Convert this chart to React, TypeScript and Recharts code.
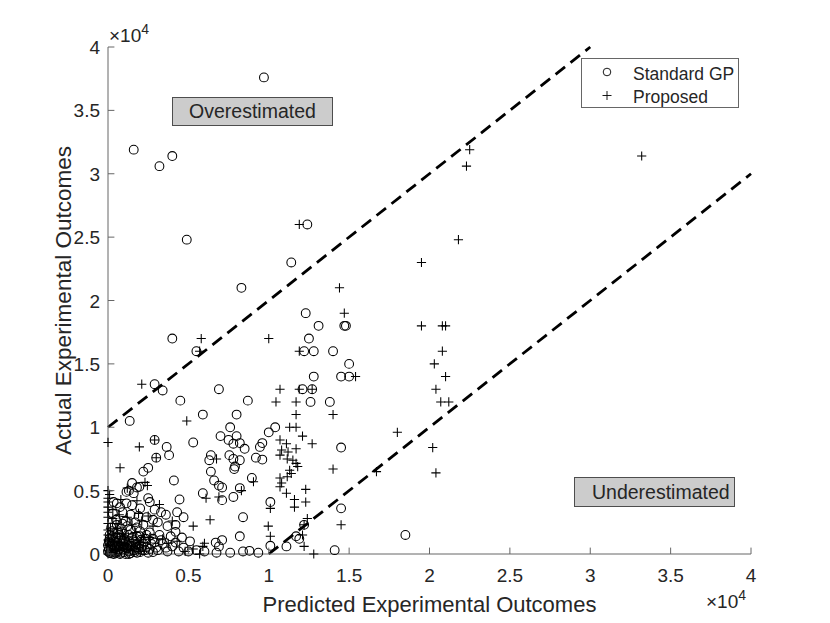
import React from "react";
import { Legend, ReferenceLine, Scatter, ScatterChart, XAxis, YAxis } from "recharts";

const FONT = "'Liberation Sans', Arial, Helvetica, sans-serif";
const INK = "#262626";
const FRAME = "#666666";

const axisTicks = [0, 5000, 10000, 15000, 20000, 25000, 30000, 35000, 40000];
const tickLabels = ["0", "0.5", "1", "1.5", "2", "2.5", "3", "3.5", "4"];
const seriesNames = ["Standard GP", "Proposed"];

// y = x + 10000 and y = x - 10000 guide lines
const overLine = [{ x: 0, y: 10000 }, { x: 30000, y: 40000 }];
const underLine = [{ x: 10000, y: 0 }, { x: 40000, y: 30000 }];

const standardGP: [number, number][] = [
  [9700, 37600], [1600, 31900], [3200, 30600], [4000, 31400], [4900, 24800],
  [12400, 26000], [11400, 23000], [8300, 21000], [12300, 19000], [13100, 18000],
  [14700, 18000], [14800, 18000], [12500, 17000], [4000, 17000], [5500, 16000],
  [12200, 16000], [12800, 16000], [14000, 16000], [15000, 15000], [12800, 14000],
  [14500, 14000], [15000, 14000], [12100, 13000], [12700, 13000], [2900, 13400],
  [3400, 12900], [6900, 13000], [4500, 12100], [8700, 12100], [12600, 12000],
  [13800, 12000], [5900, 11000], [8000, 11000], [1350, 10500], [7600, 10000],
  [10400, 10000], [10000, 9600], [7000, 9300], [8000, 9300], [7500, 9000],
  [7800, 8700], [8200, 8750], [8500, 8300], [9600, 8750], [9450, 8450],
  [2900, 9000], [3650, 8450], [3800, 7800], [3000, 7600], [5300, 8800],
  [14500, 8400], [6400, 7800], [6300, 7400], [7550, 7800], [7800, 7500],
  [8200, 7400], [7900, 6900], [7850, 6700], [9200, 7600], [9600, 7450],
  [2500, 6800], [2200, 6500], [6400, 6500], [6600, 5800], [4100, 5800],
  [6900, 5400], [7100, 5250], [8950, 6000], [8200, 5200], [7800, 4500],
  [5900, 4800], [7100, 4250], [10100, 4100], [14500, 3600], [8400, 2900],
  [4700, 2900], [4200, 2300], [4200, 1750], [12200, 2300], [8200, 1400],
  [11700, 1400], [11900, 1200], [18500, 1500], [6700, 900], [7100, 1100],
  [6900, 600], [11100, 600], [10100, 650], [6000, 200], [6750, 100],
  [7600, 100], [8400, 200], [8800, 250], [9350, 100], [14100, 300],
  [3100, 300], [3700, 200], [4400, 200], [5000, 200], [5500, 300],
  [1500, 5600], [1950, 5300], [1300, 5000], [1150, 4900], [1600, 4800],
  [1800, 5250], [2500, 4400], [2600, 4100], [4450, 4300], [350, 4100],
  [550, 4000], [1150, 4000], [1500, 3850], [750, 3700], [2000, 3600],
  [2900, 3500], [3300, 3300], [3600, 3100], [4300, 3300], [300, 3200],
  [900, 3300], [1400, 3100], [1900, 3000], [2400, 2900], [2800, 2700],
  [3100, 2500], [500, 2700], [1100, 2600], [1700, 2500], [2200, 2300],
  [3700, 2200], [200, 2100], [800, 2000], [1400, 1900], [2000, 1800],
  [2600, 1700], [3200, 1500], [3900, 1400], [4600, 1300], [5100, 1000],
  [100, 1500], [500, 1300], [1000, 1200], [1600, 1100], [2300, 1000],
  [2900, 900], [3400, 800], [4000, 600], [4700, 500], [100, 900],
  [400, 700], [800, 600], [1200, 700], [1700, 500], [2100, 600],
  [2600, 400], [3000, 500], [50, 400], [300, 300], [600, 200],
  [900, 350], [1300, 200], [1600, 300], [2000, 150], [2300, 300],
  [150, 50], [500, 50], [800, 100], [1100, 0], [1400, 50],
  [1800, 100], [200, 550], [600, 900], [1000, 800], [1300, 1000],
  [350, 1100], [700, 1500], [0, 200], [0, 700], [100, 1200],
  [200, 300], [400, 450], [700, 350], [1000, 150], [1200, 450],
  [1500, 600], [1900, 400], [2200, 800], [2400, 550], [250, 800],
  [550, 550], [850, 850], [1150, 500], [1450, 800], [1750, 800],
  [2050, 1100], [100, 100], [450, 150], [750, 0], [1000, 550],
  [1300, 0], [1650, 150], [1950, 650], [2150, 300], [2500, 100],
  [350, 0], [650, 650], [900, 1050], [1500, 1300], [1800, 1400],
  [150, 650], [450, 950], [750, 1250], [1100, 950], [1400, 650],
  [1700, 950], [2000, 1400], [2350, 1200], [2700, 800], [2800, 150],
  [50, 1000], [300, 1400], [600, 1700], [1000, 1600], [1300, 1500],
  [2400, 1500], [2800, 1200], [3300, 1100], [3600, 500], [4200, 900],
  [250, 1800], [550, 2300], [900, 2400], [1200, 2200], [1800, 2100],
];

const proposed: [number, number][] = [
  [22500, 31900], [22300, 30600], [33200, 31400], [21800, 24800], [19500, 23000],
  [11900, 26000], [14400, 21000], [14700, 19000], [19500, 18000], [20800, 18000],
  [21000, 18000], [5800, 17000], [10000, 17000], [5700, 16000], [11900, 16000],
  [20800, 16000], [20300, 15000], [15400, 14000], [21000, 14000], [2100, 13400],
  [10700, 13000], [11900, 13000], [12700, 13000], [20400, 13000], [10450, 12000],
  [11700, 12000], [20700, 12000], [21200, 12000], [4900, 10500], [11700, 11000],
  [14000, 11000], [11300, 10000], [11700, 10000], [18000, 9600], [0, 8800],
  [1950, 8450], [2900, 9000], [10700, 9000], [11100, 8700], [12100, 9300],
  [12700, 8700], [20200, 8400], [10800, 8200], [11200, 8050], [11700, 8300],
  [3000, 7600], [750, 6800], [6750, 7500], [10700, 7800], [11150, 7500],
  [11500, 7400], [11700, 7150], [11800, 6900], [14000, 6700], [16700, 6500],
  [20400, 6400], [11300, 6600], [11400, 6350], [10700, 6000], [11150, 6100],
  [9050, 5700], [8300, 5000], [10800, 5600], [10700, 5300], [11100, 4800],
  [12300, 5100], [11600, 4300], [12300, 4100], [11600, 3700], [12400, 2800],
  [12200, 2300], [12100, 1500], [12200, 600], [12800, 0], [14500, 2300],
  [10100, 3600], [9970, 2200], [10100, 1400], [6100, 4400], [6900, 4500],
  [6350, 2700], [6000, 850], [5900, 600], [5300, 2200], [5700, 0],
  [0, 5000], [0, 4400], [0, 4100], [0, 3700], [0, 3300],
  [0, 2900], [0, 2400], [0, 1900], [0, 1500], [0, 1100],
  [0, 700], [0, 300], [0, 0], [2300, 5650], [2450, 5400],
  [300, 1600], [600, 1600], [900, 1600], [500, 2400], [1200, 2900],
  [1900, 3200], [2800, 2200], [3400, 1200], [3750, 850], [4300, 1000],
  [1000, 700], [1500, 300], [2000, 900], [2600, 1300], [300, 3500],
  [800, 4300], [3200, 3900], [4000, 2600], [4800, 200], [5300, 400],
  [200, 100], [500, 300], [800, 800], [1200, 400], [1600, 600],
  [2000, 200], [400, 1000], [1100, 1400], [1700, 1700], [2200, 1300],
  [150, 2000], [600, 2000], [300, 2800], [700, 3100], [1500, 2300],
  [2100, 2600], [2500, 3000], [1800, 4200], [1200, 5200], [100, 4700],
];

const gpData = standardGP.map(([x, y]) => ({ x, y }));
const proposedData = proposed.map(([x, y]) => ({ x, y }));

function Ring(p: any) {
  return <circle cx={p.cx} cy={p.cy} r={4.4} fill="none" stroke="#000" strokeWidth={1.05} />;
}

function Cross(p: any) {
  const { cx, cy } = p;
  return (
    <path
      d={`M${cx - 4.6},${cy}H${cx + 4.6}M${cx},${cy - 4.6}V${cy + 4.6}`}
      stroke="#000"
      strokeWidth={1.05}
      fill="none"
    />
  );
}

function labelFor(v: number) {
  return tickLabels[axisTicks.indexOf(v)];
}

// MATLAB style: tick marks point inward, labels only on bottom and left
function BoxTick(props: any) {
  const { x, y, payload, side } = props;
  const len = 6.4;
  const tick = { stroke: FRAME, strokeWidth: 1 };
  if (side === "bottom") {
    return (
      <g>
        <line x1={x} y1={y} x2={x} y2={y - len} {...tick} />
        <text x={x} y={y + 28} textAnchor="middle" fontFamily={FONT} fontSize={19} fill={INK}>
          {labelFor(payload.value)}
        </text>
      </g>
    );
  }
  if (side === "left") {
    return (
      <g>
        <line x1={x} y1={y} x2={x + len} y2={y} {...tick} />
        <text x={x - 8} y={y + 7} textAnchor="end" fontFamily={FONT} fontSize={19} fill={INK}>
          {labelFor(payload.value)}
        </text>
      </g>
    );
  }
  if (side === "top") return <line x1={x} y1={y} x2={x} y2={y + len} {...tick} />;
  return <line x1={x} y1={y} x2={x - len} y2={y} {...tick} />;
}

function XTitle() {
  return (
    <g fontFamily={FONT} fill={INK}>
      <text x={429.5} y={612} textAnchor="middle" fontSize={22}>
        Predicted Experimental Outcomes
      </text>
      <text x={706} y={608} fontSize={19}>
        ×10
        <tspan dy={-8} fontSize={14}>4</tspan>
      </text>
    </g>
  );
}

function YTitle() {
  return (
    <g fontFamily={FONT} fill={INK}>
      <text transform="translate(71,300.5) rotate(-90)" textAnchor="middle" fontSize={22.5}>
        Actual Experimental Outcomes
      </text>
      <text x={109} y={42} fontSize={19}>
        ×10
        <tspan dy={-8} fontSize={14}>4</tspan>
      </text>
    </g>
  );
}

function LegendBox(props: any) {
  const entries = [...(props.payload || [])].sort(
    (a: any, b: any) => seriesNames.indexOf(a.value) - seriesNames.indexOf(b.value)
  );
  return (
    <div
      style={{
        boxSizing: "border-box",
        width: 158,
        height: 50,
        border: `1px solid ${FRAME}`,
        background: "#fff",
        position: "relative",
      }}
    >
      <svg width={158} height={50} style={{ position: "absolute", left: -1, top: -1 }}>
        {entries.map((e: any, i: number) => {
          const cy = 14 + i * 23.5;
          return (
            <g key={e.value}>
              {e.value === seriesNames[0] ? (
                <circle cx={26} cy={cy} r={3.8} fill="none" stroke="#000" strokeWidth={0.9} />
              ) : (
                <path d={`M21.5,${cy}H30.5M26,${cy - 4.5}V${cy + 4.5}`} stroke="#000" strokeWidth={0.9} fill="none" />
              )}
              <text x={52} y={cy + 7.5} fontFamily={FONT} fontSize={17.5} fill={INK}>
                {e.value}
              </text>
            </g>
          );
        })}
      </svg>
    </div>
  );
}

const noteBox: React.CSSProperties = {
  position: "absolute",
  boxSizing: "border-box",
  background: "#cccccc",
  border: "1px solid #4d4d4d",
  fontFamily: FONT,
  fontSize: 19.5,
  color: INK,
  display: "flex",
  alignItems: "center",
  whiteSpace: "nowrap",
};

export default function App() {
  return (
    <div style={{ position: "absolute", left: 0, top: 0, width: 830, height: 623, background: "#fff" }}>
      <ScatterChart width={830} height={623} margin={{ top: 47, right: 79, bottom: 0, left: 0 }}>
        <XAxis
          type="number"
          dataKey="x"
          domain={[0, 40000]}
          ticks={axisTicks}
          interval={0}
          height={69}
          tickSize={0}
          tickMargin={0}
          axisLine={{ stroke: FRAME, strokeWidth: 1 }}
          tick={<BoxTick side="bottom" />}
          label={<XTitle />}
        />
        <XAxis
          xAxisId="top"
          orientation="top"
          type="number"
          domain={[0, 40000]}
          ticks={axisTicks}
          interval={0}
          height={0}
          tickSize={0}
          tickMargin={0}
          axisLine={{ stroke: FRAME, strokeWidth: 1 }}
          tick={<BoxTick side="top" />}
        />
        <YAxis
          type="number"
          dataKey="y"
          domain={[0, 40000]}
          ticks={axisTicks}
          interval={0}
          width={108}
          tickSize={0}
          tickMargin={0}
          axisLine={{ stroke: FRAME, strokeWidth: 1 }}
          tick={<BoxTick side="left" />}
          label={<YTitle />}
        />
        <YAxis
          yAxisId="right"
          orientation="right"
          type="number"
          domain={[0, 40000]}
          ticks={axisTicks}
          interval={0}
          width={0}
          tickSize={0}
          tickMargin={0}
          axisLine={{ stroke: FRAME, strokeWidth: 1 }}
          tick={<BoxTick side="right" />}
        />
        <ReferenceLine segment={overLine} stroke="#000" strokeWidth={2.8} strokeDasharray="12 7" ifOverflow="visible" />
        <ReferenceLine segment={underLine} stroke="#000" strokeWidth={2.8} strokeDasharray="12 7" ifOverflow="visible" />
        <Scatter name={seriesNames[0]} data={gpData} shape={Ring} isAnimationActive={false} />
        <Scatter name={seriesNames[1]} data={proposedData} shape={Cross} isAnimationActive={false} />
        <Legend
          layout="vertical"
          align="center"
          verticalAlign="middle"
          wrapperStyle={{ left: 581, top: 58, width: 158, height: 50 }}
          content={LegendBox}
        />
      </ScatterChart>
      <div style={{ ...noteBox, left: 172, top: 97, width: 161, height: 29, justifyContent: "center" }}>
        Overestimated
      </div>
      <div style={{ ...noteBox, left: 574, top: 477, width: 161, height: 30, paddingLeft: 17 }}>
        Underestimated
      </div>
    </div>
  );
}
